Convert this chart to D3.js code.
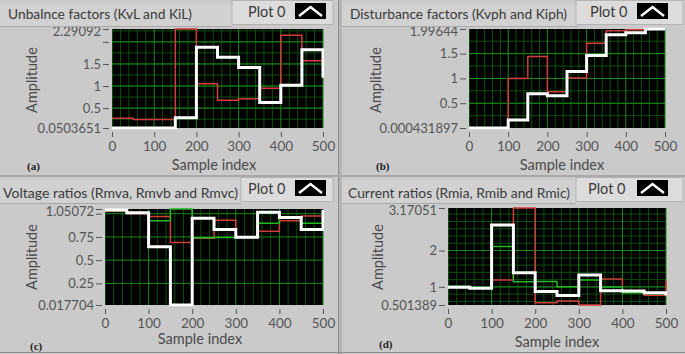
<!DOCTYPE html>
<html><head><meta charset="utf-8">
<script src="https://cdn.jsdelivr.net/npm/d3@7"></script>
<style>
html,body{margin:0;padding:0;background:#c9c9c9;}
svg{display:block;}
text{font-family:Lato,"Noto Sans",sans-serif;}
</style></head>
<body>
<svg id="chart" width="685" height="354"></svg>
<script>
// ---------- data ----------
const sampleIndex = [0, 50, 100, 150, 200, 250, 300, 350, 400, 450, 500];

// (a) Unbalance factors
const unbalanceWhite = [0.0503651, 0.0503651, 0.0503651, 0.28, 1.88, 1.65, 1.42, 0.63, 1.02, 1.82, 1.19];
const unbalanceRed   = [0.27, 0.24, 0.24, 2.29092, 1.05, 0.68, 0.71, 0.95, 2.15, 1.57, 1.57];
const unbalanceTicks = [0.0503651, 0.5, 1, 1.5, 2, 2.29092];
const unbalanceTickLabels = ["0.0503651", "0.5", "1", "1.5", "", "2.29092"];

// (b) Disturbance factors
const disturbWhite = [0.000431897, 0.000431897, 0.16, 0.69, 0.65, 1.14, 1.46, 1.88, 1.92, 1.99644, 1.99644];
const disturbRed   = [0.000431897, 0.000431897, 1.0, 1.44, 0.73, 1.01, 1.71, 1.96, 1.98, 1.99644, 1.99644];
const disturbTicks = [0.000431897, 0.5, 1, 1.5, 1.99644];
const disturbTickLabels = ["0.000431897", "0.5", "1", "1.5", "1.99644"];

// (c) Voltage ratios
const voltWhite = [1.04, 1.01, 0.645, 0.017704, 0.95, 0.83, 0.746, 1.015, 0.96, 0.83, 1.04];
const voltRed   = [1.03, 1.0, 0.97, 0.69, 0.735, 0.93, 0.75, 0.81, 0.925, 0.975, 0.975];
const voltGreen = [1.035, 1.005, 0.925, 1.05072, 0.742, 0.745, 0.745, 0.897, 0.95, 0.897, 0.897];
const voltTicks = [0.017704, 0.25, 0.5, 0.75, 1, 1.05072];
const voltTickLabels = ["0.017704", "0.25", "0.5", "0.75", "", "1.05072"];

// (d) Current ratios
const currWhite = [0.99, 0.96, 2.70, 1.39, 0.87, 0.76, 1.33, 0.895, 0.89, 0.84, 0.76];
const currRed   = [1.0, 0.97, 1.19, 3.17051, 0.565, 0.61, 0.501389, 1.22, 0.86, 0.77, 1.19];
const currGreen = [1.02, 0.97, 2.11, 1.14, 1.15, 1.005, 1.19, 1.0, 0.84, 0.82, 0.82];
const currTicks = [0.501389, 1, 2, 3.17051];
const currTickLabels = ["0.501389", "1", "2", "3.17051"];

const xTicks = [0, 100, 200, 300, 400, 500];
const titles = ["Unbalnce factors (KvL and KiL)", "Disturbance factors (Kvph and Kiph)",
                "Voltage ratios (Rmva, Rmvb and Rmvc)", "Current ratios (Rmia, Rmib and Rmic)"];
const letters = ["(a)", "(b)", "(c)", "(d)"];

// ---------- layout ----------
const COL = {white:"#ffffff", red:"#d23c3c", green:"#22b822"};
const panels = [
  {ox:0, oy:0, w:338, h:175, px0:112, px1:323, py0:29, py1:128,
   dom:[0.0503651, 2.29092], ticks:unbalanceTicks, labels:unbalanceTickLabels, hminor:0.25,
   series:[{v:unbalanceRed,c:COL.red,w:1.5},{v:unbalanceWhite,c:COL.white,w:3}],
   titleX:8, titleW:184, titleY:19, barW:232, legX:232, legW:101, legTX:248, iconX:295,
   letterX:27, letterY:170, sampleX:214, sampleY:170, ampX:37, ampY:80},
  {ox:342, oy:0, w:343, h:175, px0:469, px1:665, py0:29, py1:128,
   dom:[0.000431897, 1.99644], ticks:disturbTicks, labels:disturbTickLabels, hminor:0.25,
   series:[{v:disturbRed,c:COL.red,w:1.5},{v:disturbWhite,c:COL.white,w:3}],
   titleX:350, titleW:217, titleY:19, barW:236, legX:576, legW:107, legTX:590, iconX:637,
   letterX:376, letterY:170, sampleX:562, sampleY:170, ampX:381, ampY:80},
  {ox:0, oy:177, w:338, h:175, px0:105, px1:323, py0:209, py1:305,
   dom:[0.017704, 1.05072], ticks:voltTicks, labels:voltTickLabels, hminor:null,
   series:[{v:voltRed,c:COL.red,w:1.5},{v:voltGreen,c:COL.green,w:1.5},{v:voltWhite,c:COL.white,w:3}],
   titleX:3, titleW:235, titleY:198, barW:241, legX:241, legW:92, legTX:248, iconX:295,
   letterX:30, letterY:350, sampleX:200, sampleY:344, ampX:37, ampY:257},
  {ox:342, oy:177, w:343, h:175, px0:448, px1:666, py0:208, py1:305,
   dom:[0.501389, 3.17051], ticks:currTicks, labels:currTickLabels, hminor:0.2,
   series:[{v:currRed,c:COL.red,w:1.5},{v:currGreen,c:COL.green,w:1.5},{v:currWhite,c:COL.white,w:3}],
   titleX:348, titleW:222, titleY:198, barW:234, legX:576, legW:107, legTX:588, iconX:637,
   letterX:379, letterY:348, sampleX:557, sampleY:347, ampX:383, ampY:257}
];

const svg = d3.select("#chart");
svg.append("rect").attr("width",685).attr("height",354).attr("fill","#c9c9c9");

panels.forEach((p, i) => {
  const g = svg.append("g");
  g.append("rect").attr("x",p.ox).attr("y",p.oy).attr("width",p.w).attr("height",p.h).attr("fill","#cacaca");

  const x = d3.scaleLinear().domain([0,500]).range([p.px0,p.px1]);
  const y = d3.scaleLinear().domain(p.dom).range([p.py1,p.py0]);

  g.append("rect").attr("x",p.px0).attr("y",p.py0).attr("width",p.px1-p.px0).attr("height",p.py1-p.py0).attr("fill","#000");

  const clipId = "clip"+i;
  svg.append("clipPath").attr("id",clipId).append("rect")
    .attr("x",p.px0).attr("y",p.py0-1.5).attr("width",p.px1-p.px0+1).attr("height",p.py1-p.py0+3);
  const plot = g.append("g").attr("clip-path",`url(#${clipId})`);

  // minor grid
  const vMinor = d3.range(0,501,20).filter(v=>v%100!==0);
  plot.selectAll(".vmin").data(vMinor).join("line")
    .attr("x1",d=>x(d)).attr("x2",d=>x(d)).attr("y1",p.py0).attr("y2",p.py1)
    .attr("stroke","#0c4f0c").attr("stroke-width",1);
  if (p.hminor) {
    const hm = d3.range(Math.ceil(p.dom[0]/p.hminor)*p.hminor, p.dom[1], p.hminor);
    plot.selectAll(".hmin").data(hm).join("line")
      .attr("x1",p.px0).attr("x2",p.px1).attr("y1",d=>y(d)).attr("y2",d=>y(d))
      .attr("stroke","#0c4f0c").attr("stroke-width",1);
  }
  // major grid
  plot.selectAll(".vmaj").data(xTicks).join("line")
    .attr("x1",d=>x(d)).attr("x2",d=>x(d)).attr("y1",p.py0).attr("y2",p.py1)
    .attr("stroke","#198a19").attr("stroke-width",1);
  const hMaj = p.ticks.slice(1,-1);
  plot.selectAll(".hmaj").data(hMaj).join("line")
    .attr("x1",p.px0).attr("x2",p.px1).attr("y1",d=>y(d)).attr("y2",d=>y(d))
    .attr("stroke","#198a19").attr("stroke-width",1);

  // series
  const line = d3.line().curve(d3.curveStepAfter).x((d,k)=>x(sampleIndex[k])).y(d=>y(d));
  p.series.forEach(s => {
    plot.append("path").datum(s.v).attr("d",line).attr("fill","none")
      .attr("stroke",s.c).attr("stroke-width",s.w).attr("stroke-linejoin","miter");
  });

  // axes
  const yAxis = d3.axisLeft(y).tickValues(p.ticks).tickFormat((d,k)=>p.labels[k]).tickSize(6).tickPadding(2);
  const ya = g.append("g").attr("transform",`translate(${p.px0-3},0)`).call(yAxis);
  ya.select(".domain").remove();
  ya.selectAll("line").attr("stroke","#555");
  ya.selectAll("text").attr("fill","#555").attr("font-size",13).style("font-family","Lato,sans-serif");
  ya.selectAll(".tick").filter((d,k)=>k===p.ticks.length-1).select("text").attr("dy","0.5em");

  const xAxis = d3.axisBottom(x).tickValues(xTicks).tickSize(5).tickPadding(4);
  const xa = g.append("g").attr("transform",`translate(0,${p.py1+4})`).call(xAxis);
  xa.select(".domain").remove();
  xa.selectAll("line").attr("stroke","#555");
  xa.selectAll("text").attr("fill","#555").attr("font-size",13.5).style("font-family","Lato,sans-serif");

  g.append("text").attr("x",p.sampleX).attr("y",p.sampleY).attr("text-anchor","middle")
    .attr("font-size",14.5).attr("fill","#4a4a4a").text("Sample index");
  g.append("text").attr("transform",`translate(${p.ampX},${p.ampY}) rotate(-90)`).attr("text-anchor","middle")
    .attr("font-size",14.5).attr("fill","#4a4a4a").text("Amplitude");
  g.append("text").attr("x",p.letterX).attr("y",p.letterY).attr("font-size",11).attr("font-weight","bold")
    .style("font-family","'Liberation Serif',serif").attr("fill","#222").text(letters[i]);

  // title bar
  g.append("rect").attr("x",p.ox).attr("y",p.oy+3).attr("width",p.barW).attr("height",23).attr("fill","#d1d1d1");
  g.append("line").attr("x1",p.ox).attr("x2",p.ox+p.barW).attr("y1",p.oy+26.5).attr("y2",p.oy+26.5)
    .attr("stroke","#a9a9a9").attr("stroke-width",1);
  g.append("text").attr("x",p.titleX).attr("y",p.titleY).attr("font-size",14).attr("fill","#3a3a3a")
    .attr("textLength",p.titleW).attr("lengthAdjust","spacingAndGlyphs").text(titles[i]);

  // legend
  g.append("rect").attr("x",p.legX).attr("y",p.oy+0.5).attr("width",p.legW).attr("height",24)
    .attr("fill","#dcdcdc").attr("stroke","#b4b4b4");
  g.append("text").attr("x",p.legTX).attr("y",p.oy+17).attr("font-size",14.5).attr("fill","#3a3a3a").text("Plot 0");
  g.append("rect").attr("x",p.iconX).attr("y",p.oy+3).attr("width",31).attr("height",16).attr("fill","#000");
  g.append("polyline").attr("points",`${p.iconX+4},${p.oy+16} ${p.iconX+15.5},${p.oy+7} ${p.iconX+27},${p.oy+16}`)
    .attr("fill","none").attr("stroke","#fff").attr("stroke-width",2.5);
});

// dividers
svg.append("rect").attr("x",338).attr("y",0).attr("width",4).attr("height",354).attr("fill","#b5b5b5");
svg.append("line").attr("x1",338.5).attr("x2",338.5).attr("y1",0).attr("y2",354).attr("stroke","#8c8c8c");
svg.append("rect").attr("x",0).attr("y",175).attr("width",685).attr("height",2).attr("fill","#a8a8a8");
svg.append("line").attr("x1",0).attr("x2",685).attr("y1",352.5).attr("y2",352.5).attr("stroke","#8c8c8c");
</script>
</body></html>
